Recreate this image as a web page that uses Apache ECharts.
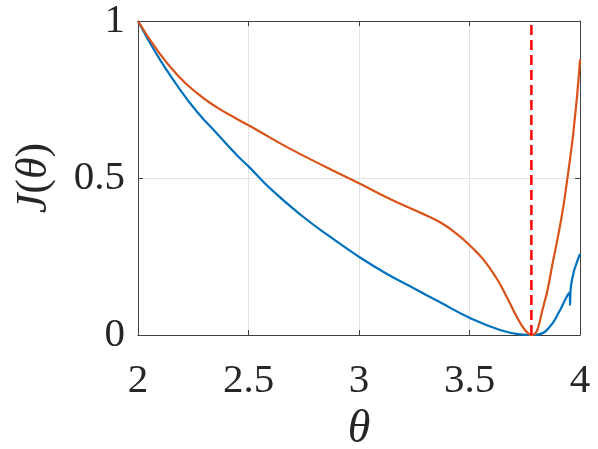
<!DOCTYPE html>
<html>
<head>
<meta charset="utf-8">
<script src="https://cdn.jsdelivr.net/npm/echarts@6/dist/echarts.min.js"></script>
<style>html,body{margin:0;padding:0;background:#fff;}#c{width:598px;height:449px;}</style>
</head>
<body>
<div id="c"></div>
<script>
// Data
const blueTheta = [2.0, 2.086, 2.176, 2.267, 2.357, 2.45, 2.5, 2.605, 2.75, 2.875, 3.0, 3.125, 3.25, 3.367, 3.5, 3.638, 3.73, 3.78, 3.819, 3.864, 3.902, 3.94, 3.953, 3.955, 3.957, 3.97, 3.985, 4.0];
const blueJ     = [1.0, 0.892, 0.796, 0.711, 0.642, 0.571, 0.537, 0.462, 0.375, 0.31, 0.249, 0.195, 0.148, 0.104, 0.055, 0.016, 0.002, 0.0, 0.003, 0.027, 0.069, 0.122, 0.135, 0.096, 0.14, 0.196, 0.23, 0.258];
const orangeTheta = [2.0, 2.086, 2.176, 2.267, 2.357, 2.448, 2.538, 2.67, 2.85, 3.0, 3.15, 3.276, 3.367, 3.442, 3.502, 3.563, 3.623, 3.668, 3.714, 3.751, 3.781, 3.834, 3.879, 3.917, 3.943, 3.965, 3.975, 3.988, 4.0];
const orangeJ     = [1.0, 0.908, 0.83, 0.77, 0.725, 0.688, 0.653, 0.6, 0.535, 0.483, 0.43, 0.39, 0.359, 0.322, 0.285, 0.24, 0.18, 0.122, 0.058, 0.016, 0.0, 0.09, 0.239, 0.377, 0.499, 0.615, 0.68, 0.77, 0.878];
const optimumTheta = 3.78;
const xTicks = [2, 2.5, 3, 3.5, 4];
const yTicks = [0, 0.5, 1];

const zip = (a, b) => a.map((v, i) => [v, b[i]]);
const serif = '"Liberation Serif", "DejaVu Serif", serif';
const axisColor = '#404040';
const labelStyle = { fontFamily: serif, fontSize: 41, color: '#262626' };

const chart = echarts.init(document.getElementById('c'), null, { renderer: 'canvas' });
const xStep = xTicks[1] - xTicks[0];
const yStep = yTicks[1] - yTicks[0];
const xMin = xTicks[0], xMax = xTicks[xTicks.length - 1];
const yMin = yTicks[0], yMax = yTicks[yTicks.length - 1];

chart.setOption({
  animation: false,
  backgroundColor: '#ffffff',
  grid: { left: 138, right: 18, top: 21, bottom: 114, containLabel: false, outerBoundsMode: 'none' },
  xAxis: [{
    type: 'value', min: xMin, max: xMax, interval: xStep, position: 'bottom',
    axisLine: { show: true, onZero: false, lineStyle: { color: axisColor, width: 1 } },
    axisTick: { show: true, inside: true, length: 5, lineStyle: { color: axisColor } },
    axisLabel: Object.assign({ margin: 26 }, labelStyle),
    splitLine: { show: true, lineStyle: { color: '#e3e3e3', width: 1 } },
    name: 'θ', nameLocation: 'middle', nameGap: 68,
    nameTextStyle: { fontFamily: serif, fontSize: 46, fontStyle: 'italic', color: '#262626' }
  }, {
    type: 'value', min: xMin, max: xMax, interval: xStep, position: 'top',
    axisLine: { show: true, onZero: false, lineStyle: { color: axisColor, width: 1 } },
    axisTick: { show: true, inside: true, length: 5, lineStyle: { color: axisColor } },
    axisLabel: { show: false }, splitLine: { show: false }
  }],
  yAxis: [{
    type: 'value', min: yMin, max: yMax, interval: yStep, position: 'left',
    axisLine: { show: true, onZero: false, lineStyle: { color: axisColor, width: 1 } },
    axisTick: { show: true, inside: true, length: 5, lineStyle: { color: axisColor } },
    axisLabel: Object.assign({ margin: 13 }, labelStyle),
    splitLine: { show: true, lineStyle: { color: '#e3e3e3', width: 1 } },
    name: '{i|J}{u|(}{i|θ}{u|)}', nameLocation: 'middle', nameGap: 82, nameRotate: 90,
    nameTextStyle: {
      fontFamily: serif, fontSize: 44, color: '#262626',
      rich: {
        i: { fontFamily: serif, fontSize: 44, fontStyle: 'italic', color: '#262626' },
        u: { fontFamily: serif, fontSize: 44, color: '#262626' }
      }
    }
  }, {
    type: 'value', min: yMin, max: yMax, interval: yStep, position: 'right',
    axisLine: { show: true, onZero: false, lineStyle: { color: axisColor, width: 1 } },
    axisTick: { show: true, inside: true, length: 5, lineStyle: { color: axisColor } },
    axisLabel: { show: false }, splitLine: { show: false }
  }],
  series: [{
    type: 'line', data: zip(blueTheta, blueJ), showSymbol: false, smooth: 0.5,
    lineStyle: { color: '#0072BD', width: 2.2 }, itemStyle: { color: '#0072BD' }, z: 3
  }, {
    type: 'line', data: zip(orangeTheta, orangeJ), showSymbol: false, smooth: 0.5,
    lineStyle: { color: '#D95319', width: 2.2 }, itemStyle: { color: '#D95319' }, z: 4
  }, {
    type: 'line', data: [[optimumTheta, yMin], [optimumTheta, yMax]], showSymbol: false,
    lineStyle: { color: '#FF0000', width: 2.5, type: [10, 5] }, itemStyle: { color: '#FF0000' }, z: 5
  }]
});
</script>
</body>
</html>
